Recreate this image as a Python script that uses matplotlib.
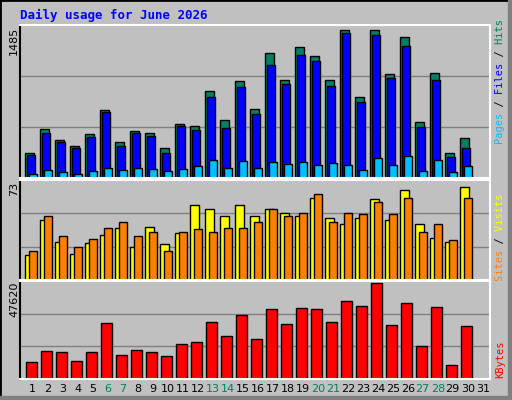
import matplotlib
matplotlib.use("Agg")
import matplotlib.pyplot as plt
import numpy as np

days = list(range(1, 32))
hits = [245, 479, 371, 313, 430, 664, 352, 459, 440, 293, 528, 508, 840, 567, 938, 674,
        1211, 948, 1270, 1182, 948, 1436, 791, 1436, 1006, 1368, 547, 1016, 245, 391, 0]
files = [225, 440, 352, 293, 401, 645, 313, 440, 410, 244, 508, 469, 791, 489, 879, 625,
         1094, 909, 1192, 1133, 889, 1407, 742, 1387, 967, 1280, 498, 948, 205, 293, 0]
pages = [39, 78, 59, 39, 68, 98, 78, 98, 88, 68, 88, 117, 176, 98, 166, 98,
         156, 137, 156, 127, 147, 127, 78, 195, 127, 215, 68, 176, 59, 117, 0]
visits = [18, 44, 28, 19, 27, 33, 38, 24, 39, 26, 34, 55, 52, 47, 55, 47,
          52, 49, 47, 60, 45, 41, 45, 59, 44, 66, 41, 31, 28, 68, 0]
sites = [21, 47, 32, 24, 30, 38, 42, 32, 35, 21, 35, 37, 35, 38, 38, 42,
         52, 47, 49, 63, 42, 49, 48, 57, 48, 60, 35, 41, 29, 60, 0]
kbytes = [8334, 13435, 12925, 8844, 12925, 27211, 11905, 13945, 12925, 11395, 17007, 18027,
          27721, 21089, 31292, 19558, 33843, 26701, 34353, 33843, 27721, 37924, 35373, 46600,
          26191, 36904, 15986, 34863, 6803, 25680, 0]
weekends = [6, 7, 13, 14, 20, 21, 27, 28]

BG = "#c0c0c0"
W, H = 512, 400
fig = plt.figure(figsize=(5.12, 4.0), dpi=100, facecolor=BG)

def ax_at(x0, y0, x1, y1):
    return fig.add_axes([x0 / W, 1 - y1 / H, (x1 - x0) / W, (y1 - y0) / H])

d = np.array(days, dtype=float)
xlim = (0.5, 0.5 + 470 / 15)

def style(ax, top):
    ax.set_facecolor(BG)
    ax.set_xlim(*xlim)
    ax.set_ylim(0, top)
    for g in (top / 3, 2 * top / 3):
        ax.axhline(g, color="#808080", lw=1, zorder=0)
    ax.set_xticks([]); ax.set_yticks([])
    for s in ax.spines.values():
        s.set_color("white"); s.set_linewidth(1.5)
    ax.spines["left"].set_color("black"); ax.spines["bottom"].set_color("white")

ek = dict(edgecolor="black", linewidth=1, align="edge")
ax1 = ax_at(20, 25, 490, 178)
style(ax1, 1485)
ax1.bar(d - 0.17, hits, 0.6, color="#008060", **ek)
ax1.bar(d - 0.03, files, 0.53, color="#0000ff", **ek)
ax1.bar(d + 0.1, pages, 0.53, color="#00c0ff", **ek)

ax2 = ax_at(20, 180, 490, 280)
style(ax2, 73)
ax2.bar(d - 0.17, visits, 0.6, color="#ffff00", **ek)
ax2.bar(d + 0.1, sites, 0.53, color="#ff8000", **ek)

ax3 = ax_at(20, 281, 490, 379)
style(ax3, 47620)
ax3.bar(d - 0.1, kbytes, 0.7, color="#ff0000", **ek)

for day in days:
    x = 20 + (day + 0.35 - xlim[0]) * 15
    fig.text(x / W, 1 - 389 / H, str(day), ha="center", va="center", fontsize=8,
             color="#008060" if day in weekends else "black")

fig.text(20 / W, 1 - 15 / H, "Daily usage for June 2026", ha="left", va="center",
         fontsize=9, fontweight="bold", color="#0000ff", family="DejaVu Sans Mono")

for y, lab in [(27, "1485"), (182, "73"), (282, "47620")]:
    fig.text(14 / W, 1 - y / H, lab, rotation=90, ha="center", va="top", fontsize=8)

def rlabel(yc, parts):
    full = "".join(p for p, c in parts)
    pos = 0
    for p, c in parts:
        s = " " * pos + p + " " * (len(full) - pos - len(p))
        fig.text(500 / W, 1 - yc / H, s, rotation=90, ha="center", va="center",
                 fontsize=7.5, color=c, family="DejaVu Sans Mono")
        pos += len(p)

rlabel(82, [("Pages", "#00c0ff"), (" / ", "black"), ("Files", "#0000ff"),
            (" / ", "black"), ("Hits", "#008060")])
rlabel(237, [("Sites", "#ff8000"), (" / ", "black"), ("Visits", "#ffff00")])
rlabel(359, [("KBytes", "#ff0000")])

fig.add_artist(plt.Rectangle((0, 0), 1, 1, transform=fig.transFigure, fill=False,
                             edgecolor="black", linewidth=2))
fig.add_artist(plt.Rectangle((508 / W, 0), 4 / W, 1, transform=fig.transFigure,
                             color="#808080"))
fig.add_artist(plt.Rectangle((0, 0), 1, 4 / H, transform=fig.transFigure, color="#808080"))
fig.savefig("out.png", dpi=100, facecolor=BG)
